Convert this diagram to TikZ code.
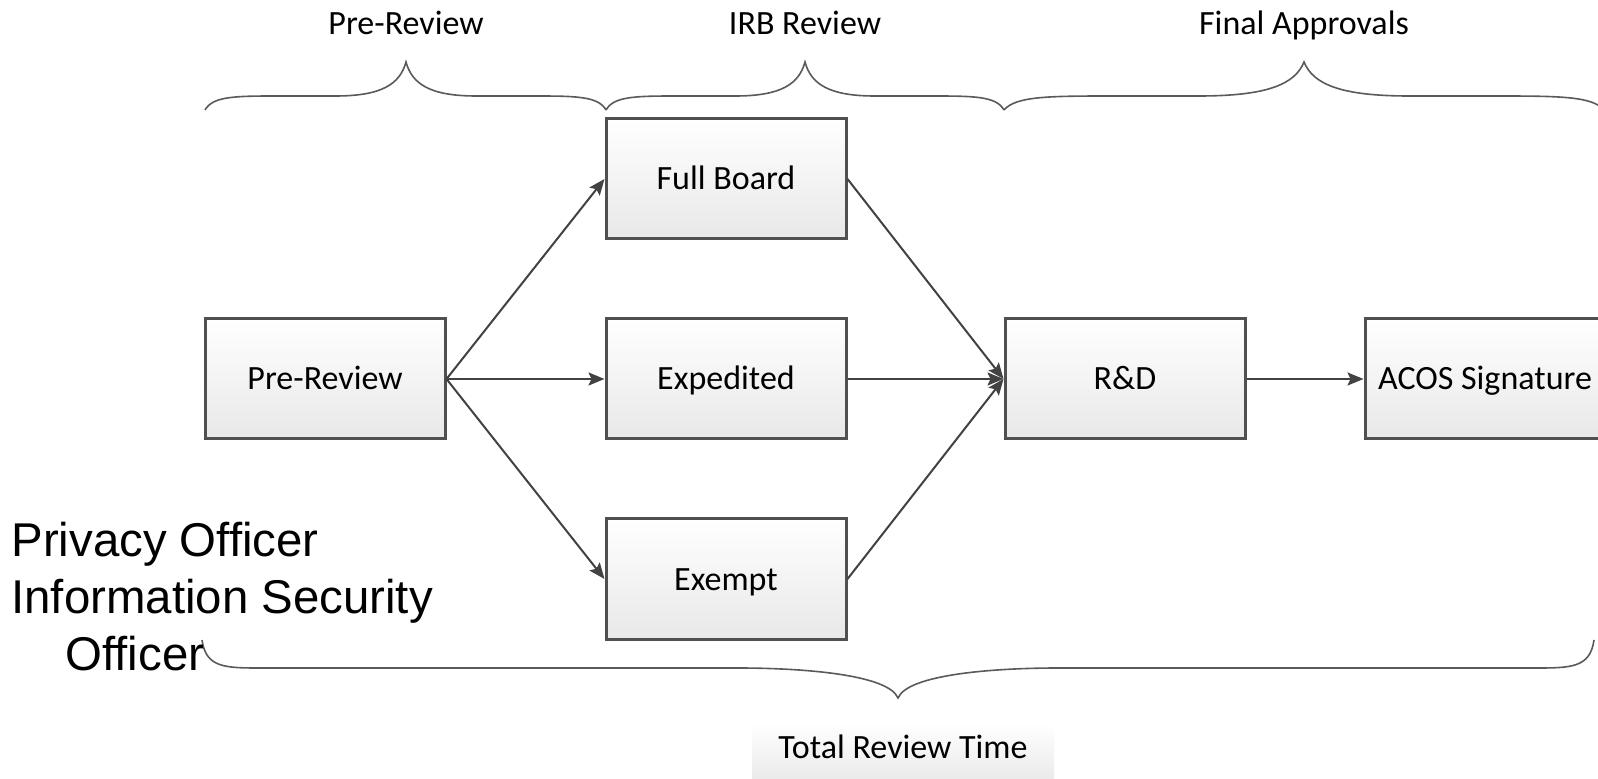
\documentclass[tikz,border=0pt]{standalone}
\usepackage{fontspec}
\setmainfont{Carlito}
\newfontfamily\arialfont{Liberation Sans}
\usetikzlibrary{arrows.meta}

\definecolor{edgegray}{HTML}{505050}
\definecolor{linkgray}{HTML}{424242}
\definecolor{bracegray}{HTML}{5A5A5A}

% curly bracket over a review phase: left end, cusp, right end (x), tips at y=110
\newcommand{\phasebrace}[3]{%
  \pgfmathsetmacro\bl{#1}\pgfmathsetmacro\bc{#2}\pgfmathsetmacro\br{#3}%
  \pgfmathsetmacro\hl{\bc-\bl}\pgfmathsetmacro\hr{\br-\bc}%
  \draw[bracket] (\bl,110) .. controls (\bl+0.04*\hl,96) and (\bl+0.15*\hl,96) .. (\bl+0.38*\hl,96)
    -- (\bc-0.35*\hl,96) .. controls (\bc-0.12*\hl,96) and (\bc-0.03*\hl,84) .. (\bc,62)
    .. controls (\bc+0.03*\hr,84) and (\bc+0.12*\hr,96) .. (\bc+0.35*\hr,96)
    -- (\br-0.38*\hr,96) .. controls (\br-0.15*\hr,96) and (\br-0.04*\hr,96) .. (\br,110);}

\begin{document}
\begin{tikzpicture}[x=0.5pt, y=-0.5pt,
  stepbox/.style={draw=edgegray, line width=1.5pt, top color=white, bottom color=black!9,
    minimum width=120pt, minimum height=60pt, inner sep=0pt,
    font=\fontsize{17}{20}\selectfont, text height=11pt, text depth=0pt},
  link/.style={draw=linkgray, line width=1pt, -{Stealth[length=8pt,width=6.5pt,inset=1.5pt]}},
  bracket/.style={draw=bracegray, line width=0.8pt},
  phase/.style={font=\fontsize{17}{20}\selectfont, anchor=base, inner sep=0pt},
  side/.style={font={\arialfont\fontsize{23.7}{28}\selectfont}, anchor=base west, inner sep=0pt}]

\useasboundingbox (0,0) rectangle (1598,779);
\clip (0,0) rectangle (1598,779);
\fill[white] (0,0) rectangle (1598,779);

% process steps
\node[stepbox] (pre)  at (325,379)  {Pre-Review};
\node[stepbox] (full) at (726,179)  {Full Board};
\node[stepbox] (exp)  at (726,379)  {Expedited};
\node[stepbox] (exm)  at (726,579)  {Exempt};
\node[stepbox] (rd)   at (1125,379) {R\&D};
\node[stepbox] (acos) at (1485,379) {ACOS Signature};

% flow
\draw[link] (pre.east) -- (full.west);
\draw[link] (pre.east) -- (exp.west);
\draw[link] (pre.east) -- (exm.west);
\draw[link] (full.east) -- (rd.west);
\draw[link] (exp.east) -- (rd.west);
\draw[link] (exm.east) -- (rd.west);
\draw[link] (rd.east) -- (acos.west);

% phase headings and their brackets
\node[phase] (lpre) at (406,35)  {Pre-Review};
\node[phase] (lirb) at (805,35)  {IRB Review};
\node[phase] (lfin) at (1304,35) {Final Approvals};
\phasebrace{205}{406}{606}
\phasebrace{606}{805}{1004}
\phasebrace{1004}{1304}{1604}

% overall bracket
\draw[bracket] (202,640) .. controls (206,668) and (225,668) .. (262,668) -- (738,668)
  .. controls (800,668) and (888,674) .. (898,698)
  .. controls (908,674) and (996,668) .. (1058,668) -- (1534,668)
  .. controls (1571,668) and (1590,668) .. (1594,640);
\node[top color=white, bottom color=black!8, minimum width=151pt, minimum height=28pt,
  inner sep=0pt, font=\fontsize{17}{20}\selectfont, text height=11pt, text depth=3.5pt]
  (total) at (903,751) {Total Review Time};

% reviewers
\node[side] (priv) at (11,556) {Privacy Officer};
\node[side] (info) at (11,613) {Information Security};
\node[side] (offc) at (65,670) {Officer};
\end{tikzpicture}
\end{document}
